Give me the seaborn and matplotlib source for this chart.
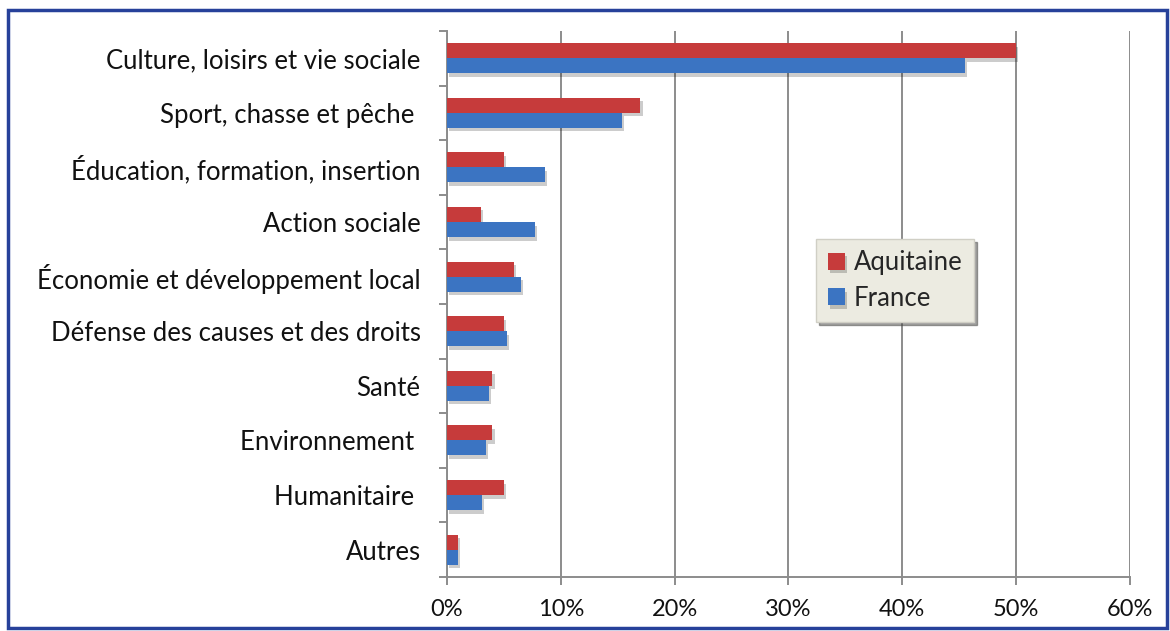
import matplotlib
matplotlib.use("Agg")
import matplotlib.pyplot as plt
import matplotlib.patheffects as pe
from matplotlib.patches import Rectangle
from matplotlib.ticker import FixedLocator, PercentFormatter
import seaborn as sns
import pandas as pd

categories = [
    "Culture, loisirs et vie sociale",
    "Sport, chasse et pêche ",
    "Éducation, formation, insertion",
    "Action sociale",
    "Économie et développement local",
    "Défense des causes et des droits",
    "Santé",
    "Environnement ",
    "Humanitaire ",
    "Autres",
]
aquitaine = [50.0, 17.0, 5.0, 3.0, 5.9, 5.0, 4.0, 4.0, 5.0, 1.0]
france = [45.5, 15.4, 8.6, 7.7, 6.5, 5.3, 3.7, 3.4, 3.1, 1.0]
series_names = ["Aquitaine", "France"]
x_ticks = [0, 10, 20, 30, 40, 50, 60]

df = pd.DataFrame({
    "cat": categories * 2,
    "val": aquitaine + france,
    "serie": [series_names[0]] * len(categories) + [series_names[1]] * len(categories),
})

sns.set_theme(style="white")
plt.rcParams["font.family"] = ["Lato", "DejaVu Sans"]

fig = plt.figure(figsize=(11.7, 6.31), dpi=100)
fig.patch.set_facecolor("white")
ax = fig.add_axes([0.382, 0.0856, 0.5838, 0.8654])

palette = {"Aquitaine": "#c63b3b", "France": "#3b74c2"}
sns.barplot(data=df, x="val", y="cat", hue="serie", order=categories,
            hue_order=series_names, palette=palette, orient="h",
            width=0.55, saturation=1, ax=ax, zorder=3, edgecolor="none")

for p in ax.patches:
    p.set_path_effects([pe.SimplePatchShadow(offset=(1.5, -2.5), alpha=0.2, shadow_rgbFace="black"), pe.Normal()])

ax.set_xlim(0, 60)
ax.set_ylim(len(categories) - 0.5, -0.5)
ax.xaxis.set_major_locator(FixedLocator(x_ticks))
ax.xaxis.set_major_formatter(PercentFormatter(decimals=0))
ax.grid(axis="x", color="#8c8c8c", linewidth=1.4, zorder=0)
ax.grid(axis="y", visible=False)
ax.set_xlabel("")
ax.set_ylabel("")

for s in ["top", "right"]:
    ax.spines[s].set_visible(False)
for s in ["left", "bottom"]:
    ax.spines[s].set_color("#8c8c8c")
    ax.spines[s].set_linewidth(1.4)

ax.tick_params(axis="x", which="major", length=6, width=1.4, color="#8c8c8c",
               labelsize=17, pad=10, labelcolor="#111111", bottom=True)
ax.tick_params(axis="y", which="major", length=0, labelsize=18.5, pad=19,
               labelcolor="#111111")
ax.yaxis.set_minor_locator(FixedLocator([i - 0.5 for i in range(len(categories) + 1)]))
ax.tick_params(axis="y", which="minor", length=6, width=1.4, color="#8c8c8c", left=True)

leg = ax.legend(loc="lower left", bbox_to_anchor=(0.522, 0.443), frameon=True,
                fontsize=18.5, handlelength=0.65, handleheight=0.65, handletextpad=0.35,
                borderpad=0.45, labelspacing=0.4, fancybox=False, shadow=True)
leg.get_frame().set_facecolor("#ecebe1")
leg.get_frame().set_edgecolor("#d0cfc5")
leg.get_frame().set_alpha(1)

fig.patches.append(Rectangle((8 / 1170, 3 / 631), 1159 / 1170, 618 / 631,
                             transform=fig.transFigure, fill=False,
                             edgecolor="#27419a", linewidth=2.5, zorder=10))

fig.savefig("out.png", dpi=100)
